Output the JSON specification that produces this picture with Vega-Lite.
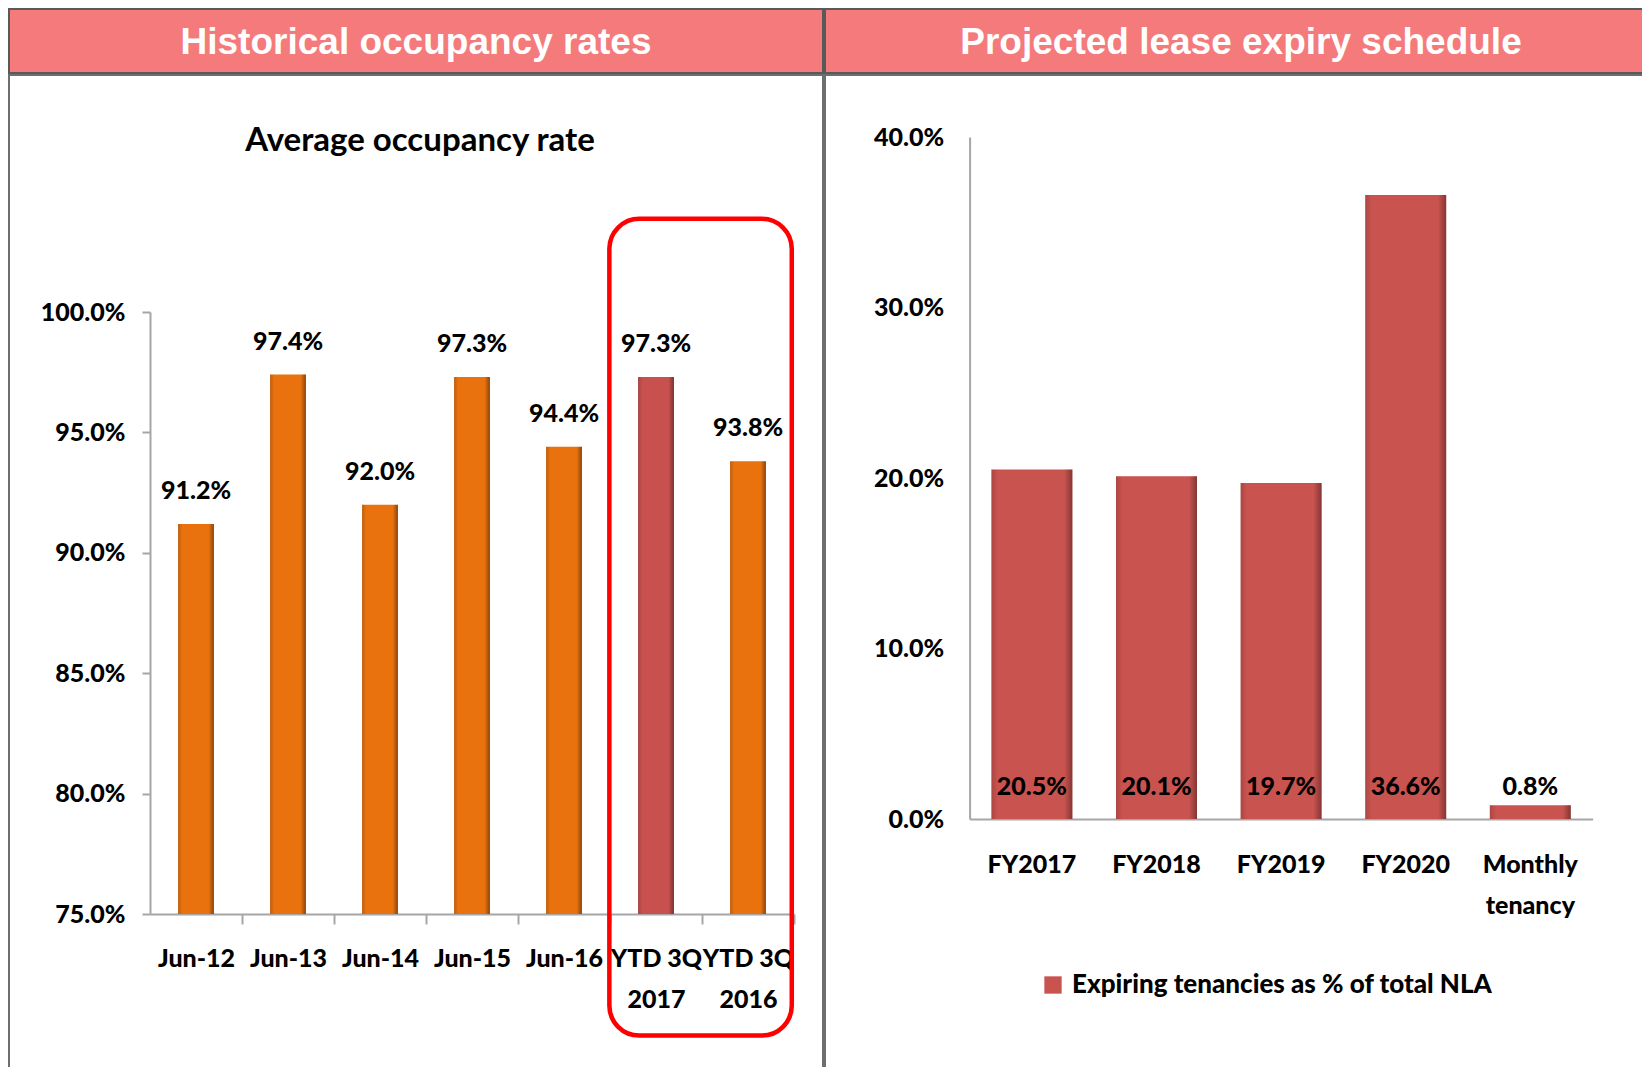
{
  "$schema": "https://vega.github.io/schema/vega-lite/v6.json",
  "padding": {"left": 8, "top": 8, "right": 0, "bottom": 0},
  "background": "white",
  "config": {"view": {"stroke": null}, "font": "Lato", "concat": {"spacing": 0}},
  "resolve": {"scale": {"color": "independent"}, "legend": {"color": "independent"}},
  "datasets": {
    "occ": [
      {"period": "Jun-12", "rate": 0.912, "group": "hist"},
      {"period": "Jun-13", "rate": 0.974, "group": "hist"},
      {"period": "Jun-14", "rate": 0.920, "group": "hist"},
      {"period": "Jun-15", "rate": 0.973, "group": "hist"},
      {"period": "Jun-16", "rate": 0.944, "group": "hist"},
      {"period": "YTD 3Q 2017", "rate": 0.973, "group": "ytd17"},
      {"period": "YTD 3Q 2016", "rate": 0.938, "group": "hist"}
    ],
    "lease": [
      {"period": "FY2017", "pct": 0.205, "series": "Expiring tenancies as % of total NLA"},
      {"period": "FY2018", "pct": 0.201, "series": "Expiring tenancies as % of total NLA"},
      {"period": "FY2019", "pct": 0.197, "series": "Expiring tenancies as % of total NLA"},
      {"period": "FY2020", "pct": 0.366, "series": "Expiring tenancies as % of total NLA"},
      {"period": "Monthly tenancy", "pct": 0.008, "series": "Expiring tenancies as % of total NLA"}
    ],
    "box": [
      {"from": "YTD 3Q 2017", "to": "YTD 3Q 2016", "lo": 0.6995, "hi": 1.0387}
    ]
  },
  "hconcat": [
    {
      "spacing": 0,
      "vconcat": [
        {
          "width": 814,
          "height": 64,
          "view": {"fill": "#F47A7C", "stroke": "#595959", "strokeWidth": 2},
          "data": {"values": [{"t": "Historical occupancy rates"}]},
          "mark": {"type": "text", "font": "Liberation Sans", "fontWeight": "bold", "fontSize": 37, "color": "white", "dy": 2},
          "encoding": {"text": {"field": "t", "type": "nominal"}}
        },
        {
          "width": 814,
          "height": 1000,
          "view": {"stroke": "#6E6E6E", "strokeWidth": 2},
          "title": {"text": "Average occupancy rate", "font": "Lato", "fontSize": 33, "fontWeight": "bold", "color": "black", "anchor": "middle", "offset": -83, "dx": 4},
          "data": {"name": "occ"},
          "encoding": {
            "x": {
              "field": "period", "type": "nominal", "sort": null, "title": null,
              "scale": {"domain": ["Jun-12", "Jun-13", "Jun-14", "Jun-15", "Jun-16", "YTD 3Q 2017", "YTD 3Q 2016"], "range": [141, 785], "paddingInner": 0.61, "paddingOuter": 0.305},
              "axis": {
                "orient": "bottom", "offset": -161, "domainColor": "#A6A6A6", "domainWidth": 2,
                "ticks": true, "tickOffset": 46, "labelOffset": -46, "tickColor": "#A6A6A6", "tickWidth": 2, "tickSize": 10,
                "labelPadding": 22, "labelFontSize": 25, "labelFont": "Lato", "labelFontWeight": 900, "labelColor": "black",
                "labelAngle": 0, "labelLineHeight": 41, "labelBaseline": "top", "labelLimit": 300,
                "labelExpr": "indexof(datum.label, 'YTD') == 0 ? [substring(datum.label, 0, 6), substring(datum.label, 7)] : datum.label"
              }
            },
            "y": {
              "field": "rate", "type": "quantitative", "title": null,
              "scale": {"domain": [0.75, 1.0], "range": [839, 237], "zero": false, "nice": false},
              "axis": {
                "orient": "left", "offset": -141, "values": [0.75, 0.8, 0.85, 0.9, 0.95, 1.0], "format": ".1%",
                "domainColor": "#A6A6A6", "domainWidth": 2, "tickColor": "#A6A6A6", "tickWidth": 2, "tickSize": 8,
                "labelPadding": 17, "labelFontSize": 25, "labelFont": "Lato", "labelFontWeight": 900, "labelColor": "black",
                "grid": false, "labelOverlap": false
              }
            }
          },
          "layer": [
            {
              "mark": {"type": "bar"},
              "encoding": {
                "y2": {"datum": 0.75},
                "color": {"field": "group", "type": "nominal", "scale": {"domain": ["hist", "ytd17"], "range": ["#E9720F", "#C85150"]}, "legend": null}
              }
            },
            {
              "mark": {
                "type": "bar",
                "fill": {"gradient": "linear", "x1": 0, "x2": 1, "y1": 0, "y2": 0, "stops": [
                  {"offset": 0, "color": "rgba(0,0,0,0.18)"},
                  {"offset": 0.12, "color": "rgba(0,0,0,0)"},
                  {"offset": 0.85, "color": "rgba(0,0,0,0)"},
                  {"offset": 1, "color": "rgba(0,0,0,0.4)"}
                ]}
              },
              "encoding": {"y2": {"datum": 0.75}}
            },
            {
              "mark": {"type": "text", "dy": -33, "fontSize": 25, "fontWeight": 900, "font": "Lato", "color": "black", "baseline": "middle"},
              "encoding": {"text": {"field": "rate", "type": "quantitative", "format": ".1%"}}
            },
            {
              "data": {"name": "box"},
              "mark": {"type": "rect", "fill": null, "stroke": "#FF0000", "strokeWidth": 4.5, "cornerRadius": 30},
              "encoding": {
                "x": {"field": "from", "type": "nominal", "bandPosition": -0.8, "title": null},
                "x2": {"field": "to", "bandPosition": 1.72},
                "y": {"field": "lo", "type": "quantitative", "title": null},
                "y2": {"field": "hi"}
              }
            }
          ]
        }
      ]
    },
    {
      "spacing": 0,
      "vconcat": [
        {
          "width": 820,
          "height": 64,
          "view": {"fill": "#F47A7C", "stroke": "#595959", "strokeWidth": 2},
          "data": {"values": [{"t": "Projected lease expiry schedule"}]},
          "mark": {"type": "text", "font": "Liberation Sans", "fontWeight": "bold", "fontSize": 37, "color": "white", "dx": 6, "dy": 2},
          "encoding": {"text": {"field": "t", "type": "nominal"}}
        },
        {
          "width": 820,
          "height": 1000,
          "view": {"stroke": "#6E6E6E", "strokeWidth": 2},
          "data": {"name": "lease"},
          "encoding": {
            "x": {
              "field": "period", "type": "nominal", "sort": null, "title": null,
              "scale": {"domain": ["FY2017", "FY2018", "FY2019", "FY2020", "Monthly tenancy"], "range": [144.6, 767.6], "paddingInner": 0.35, "paddingOuter": 0.175},
              "axis": {
                "orient": "bottom", "offset": -256, "domainColor": "#A6A6A6", "domainWidth": 2,
                "ticks": false, "tickSize": 0,
                "labelPadding": 33, "labelFontSize": 25, "labelFont": "Lato", "labelFontWeight": 900, "labelColor": "black",
                "labelAngle": 0, "labelLineHeight": 41, "labelBaseline": "top", "labelLimit": 300,
                "labelExpr": "datum.label == 'Monthly tenancy' ? ['Monthly', 'tenancy'] : datum.label"
              }
            },
            "y": {
              "field": "pct", "type": "quantitative", "title": null,
              "scale": {"domain": [0, 0.4], "range": [744, 62], "nice": false},
              "axis": {
                "orient": "left", "offset": -144.6, "values": [0, 0.1, 0.2, 0.3, 0.4], "format": ".1%",
                "domainColor": "#A6A6A6", "domainWidth": 2, "ticks": false, "tickSize": 0,
                "labelPadding": 26, "labelFontSize": 25, "labelFont": "Lato", "labelFontWeight": 900, "labelColor": "black",
                "grid": false, "labelOverlap": false
              }
            }
          },
          "layer": [
            {
              "mark": {"type": "bar"},
              "encoding": {
                "color": {
                  "field": "series", "type": "nominal", "scale": {"range": ["#C9534F"]},
                  "legend": {"orient": "none", "legendX": 215, "legendY": 963, "title": null, "symbolType": "square", "symbolSize": 300,
                    "symbolStrokeWidth": 0, "labelFontSize": 26, "labelFont": "Lato", "labelFontWeight": 900, "labelColor": "black",
                    "labelOffset": 6, "labelLimit": 700, "padding": 0}
                }
              }
            },
            {
              "mark": {
                "type": "bar",
                "fill": {"gradient": "linear", "x1": 0, "x2": 1, "y1": 0, "y2": 0, "stops": [
                  {"offset": 0, "color": "rgba(0,0,0,0.15)"},
                  {"offset": 0.08, "color": "rgba(0,0,0,0)"},
                  {"offset": 0.9, "color": "rgba(0,0,0,0)"},
                  {"offset": 1, "color": "rgba(0,0,0,0.35)"}
                ]}
              }
            },
            {
              "mark": {"type": "text", "dy": -32, "fontSize": 25, "fontWeight": 900, "font": "Lato", "color": "black", "baseline": "middle"},
              "encoding": {
                "y": {"datum": 0},
                "text": {"field": "pct", "type": "quantitative", "format": ".1%"}
              }
            }
          ]
        }
      ]
    }
  ]
}
